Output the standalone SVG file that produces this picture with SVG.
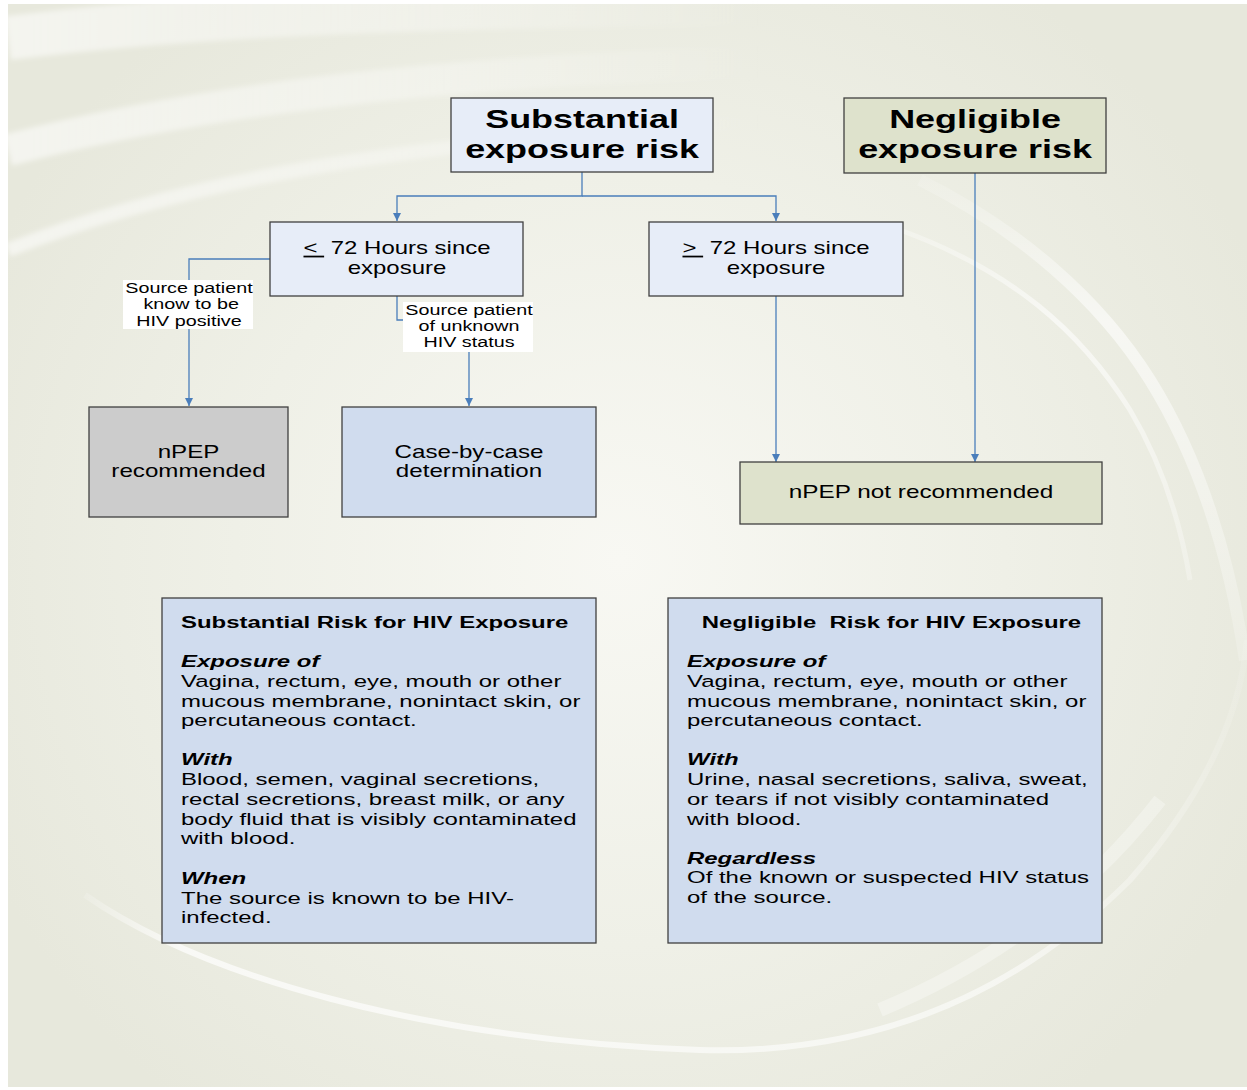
<svg xmlns="http://www.w3.org/2000/svg" width="1247" height="1090" viewBox="0 0 1247 1090">
<style>
.t{font-family:"Liberation Sans",Arial,Helvetica,sans-serif;fill:#000}
.h{font-size:25.5px;font-weight:bold}
.m{font-size:17.5px}
.s{font-size:14px}
.b{font-size:17px}
.bt{font-size:17px;font-weight:bold}
.bi{font-size:17px;font-weight:bold;font-style:italic}
.box{stroke:#404040;stroke-width:1.3}
.c{fill:none;stroke:#4a7ebb;stroke-width:1.3}
.arc{fill:none}
</style>
<defs>
<radialGradient id="bg" cx="620" cy="560" r="700" gradientUnits="userSpaceOnUse">
<stop offset="0" stop-color="#f8f8f3"/>
<stop offset="0.55" stop-color="#eff0e7"/>
<stop offset="1" stop-color="#e7e8dc"/>
</radialGradient>
<linearGradient id="fadeR" x1="8" y1="0" x2="760" y2="0" gradientUnits="userSpaceOnUse">
<stop offset="0" stop-color="#ffffff" stop-opacity="0.55"/>
<stop offset="0.6" stop-color="#ffffff" stop-opacity="0.3"/>
<stop offset="1" stop-color="#ffffff" stop-opacity="0"/>
</linearGradient>
<linearGradient id="fadeD" x1="0" y1="170" x2="0" y2="680" gradientUnits="userSpaceOnUse">
<stop offset="0" stop-color="#ffffff" stop-opacity="0.1"/>
<stop offset="0.3" stop-color="#ffffff" stop-opacity="0.6"/>
<stop offset="1" stop-color="#ffffff" stop-opacity="0.15"/>
</linearGradient>
<linearGradient id="fadeB" x1="60" y1="0" x2="1247" y2="0" gradientUnits="userSpaceOnUse">
<stop offset="0" stop-color="#ffffff" stop-opacity="0"/>
<stop offset="0.1" stop-color="#ffffff" stop-opacity="0.7"/>
<stop offset="0.8" stop-color="#ffffff" stop-opacity="0.55"/>
<stop offset="1" stop-color="#ffffff" stop-opacity="0.1"/>
</linearGradient>
<filter id="soft" x="-10%" y="-50%" width="120%" height="200%"><feGaussianBlur stdDeviation="2.5"/></filter>
<marker id="ah" markerUnits="userSpaceOnUse" markerWidth="9" markerHeight="8" refX="8" refY="4" orient="auto">
<path d="M0,0 L8,4 L0,8 Z" fill="#4a7ebb"/>
</marker>
</defs>
<rect x="0" y="0" width="1247" height="1090" fill="#ffffff"/>
<g id="background">
<rect x="8" y="4" width="1239" height="1083" fill="url(#bg)"/>
<g filter="url(#soft)">
<path class="arc" d="M8,38 C200,14 420,6 760,4" stroke="url(#fadeR)" stroke-width="44"/>
<path class="arc" d="M8,150 C200,100 430,72 760,62" stroke="url(#fadeR)" stroke-width="32"/>
<path class="arc" d="M8,250 C180,182 390,142 760,122" stroke="url(#fadeR)" stroke-width="14"/>
</g>
<path class="arc" d="M85,895 C200,975 420,1040 700,1050 C880,1055 1020,990 1130,880 C1200,800 1240,720 1247,640" stroke="url(#fadeB)" stroke-width="6"/>
<path class="arc" d="M880,1010 C1000,960 1090,890 1160,800" stroke="#ffffff" stroke-opacity="0.3" stroke-width="14"/>
<path class="arc" d="M920,180 C1020,230 1100,300 1150,380 C1200,460 1230,560 1245,660" stroke="url(#fadeD)" stroke-width="12"/>
<path class="arc" d="M900,230 C1010,270 1080,330 1130,410 C1160,460 1180,520 1190,580" stroke="url(#fadeD)" stroke-width="5"/>
</g>
<g id="connectors">
<path class="c" d="M582,172 V196 H397 V221" marker-end="url(#ah)"/>
<path class="c" d="M582,196 H776 V221" marker-end="url(#ah)"/>
<path class="c" d="M270,259 H189 V406" marker-end="url(#ah)"/>
<path class="c" d="M397,296 V320 H469 V406" marker-end="url(#ah)"/>
<path class="c" d="M776,296 V462" marker-end="url(#ah)"/>
<path class="c" d="M975,173 V462" marker-end="url(#ah)"/>
<g id="label-known">
<rect x="123" y="280" width="130" height="49" fill="#ffffff"/>
<text class="t s" text-anchor="middle" transform="translate(189 0) scale(1.41 1)"><tspan x="0" y="293">Source patient</tspan><tspan x="1.5" y="309">know to be</tspan><tspan x="0" y="326">HIV positive</tspan></text>
</g>
<g id="label-unknown">
<rect x="403" y="302" width="130" height="50" fill="#ffffff"/>
<text class="t s" text-anchor="middle" transform="translate(469 0) scale(1.41 1)"><tspan x="0" y="315">Source patient</tspan><tspan x="0" y="331">of unknown</tspan><tspan x="0" y="347">HIV status</tspan></text>
</g>
</g>
<g id="substantial">
<rect class="box" x="451" y="98" width="262" height="74" fill="#e7edf8"/>
<text class="t h" text-anchor="middle" transform="translate(582 0) scale(1.41 1)"><tspan x="0" y="128">Substantial</tspan><tspan x="0" y="158">exposure risk</tspan></text>
</g>
<g id="negligible">
<rect class="box" x="844" y="98" width="262" height="75" fill="#dee2cc"/>
<text class="t h" text-anchor="middle" transform="translate(975 0) scale(1.41 1)"><tspan x="0" y="128">Negligible</tspan><tspan x="0" y="158">exposure risk</tspan></text>
</g>
<g id="lt72">
<rect class="box" x="270" y="222" width="253" height="74" fill="#e7edf8"/>
<text class="t m" text-anchor="middle" transform="translate(397 0) scale(1.37 1)"><tspan x="0" y="254"><tspan text-decoration="underline">&lt;&#160;</tspan>&#160;72 Hours since</tspan><tspan x="0" y="274">exposure</tspan></text>
</g>
<g id="gt72">
<rect class="box" x="649" y="222" width="254" height="74" fill="#e7edf8"/>
<text class="t m" text-anchor="middle" transform="translate(776 0) scale(1.37 1)"><tspan x="0" y="254"><tspan text-decoration="underline">&gt;&#160;</tspan>&#160;72 Hours since</tspan><tspan x="0" y="274">exposure</tspan></text>
</g>
<g id="npep-rec">
<rect class="box" x="89" y="407" width="199" height="110" fill="#cccccc"/>
<text class="t m" text-anchor="middle" transform="translate(188.5 0) scale(1.38 1)"><tspan x="0" y="458">nPEP</tspan><tspan x="0" y="477">recommended</tspan></text>
</g>
<g id="case">
<rect class="box" x="342" y="407" width="254" height="110" fill="#d0dcee"/>
<text class="t m" text-anchor="middle" transform="translate(469 0) scale(1.38 1)"><tspan x="0" y="458">Case-by-case</tspan><tspan x="0" y="477">determination</tspan></text>
</g>
<g id="npep-not">
<rect class="box" x="740" y="462" width="362" height="62" fill="#dee2cc"/>
<text class="t m" text-anchor="middle" transform="translate(921 0) scale(1.39 1)"><tspan x="0" y="498">nPEP not recommended</tspan></text>
</g>
<g id="substantial-info">
<rect class="box" x="162" y="598" width="434" height="345" fill="#d0dcee"/>
<g transform="translate(181 0) scale(1.41 1)">
<text class="t bt" x="0" y="628">Substantial Risk for HIV Exposure</text>
<text class="t bi" x="0" y="667">Exposure of</text>
<text class="t b"><tspan x="0" y="687">Vagina, rectum, eye, mouth or other</tspan><tspan x="0" y="707">mucous membrane, nonintact skin, or</tspan><tspan x="0" y="726">percutaneous contact.</tspan></text>
<text class="t bi" x="0" y="765">With</text>
<text class="t b"><tspan x="0" y="785">Blood, semen, vaginal secretions,</tspan><tspan x="0" y="805">rectal secretions, breast milk, or any</tspan><tspan x="0" y="825">body fluid that is visibly contaminated</tspan><tspan x="0" y="844">with blood.</tspan></text>
<text class="t bi" x="0" y="884">When</text>
<text class="t b"><tspan x="0" y="904">The source is known to be HIV-</tspan><tspan x="0" y="923">infected.</tspan></text>
</g>
</g>
<g id="negligible-info">
<rect class="box" x="668" y="598" width="434" height="345" fill="#d0dcee"/>
<g transform="translate(687 0) scale(1.41 1)">
<text class="t bt" x="10.5" y="628" xml:space="preserve">Negligible  Risk for HIV Exposure</text>
<text class="t bi" x="0" y="667">Exposure of</text>
<text class="t b"><tspan x="0" y="687">Vagina, rectum, eye, mouth or other</tspan><tspan x="0" y="707">mucous membrane, nonintact skin, or</tspan><tspan x="0" y="726">percutaneous contact.</tspan></text>
<text class="t bi" x="0" y="765">With</text>
<text class="t b"><tspan x="0" y="785">Urine, nasal secretions, saliva, sweat,</tspan><tspan x="0" y="805">or tears if not visibly contaminated</tspan><tspan x="0" y="825">with blood.</tspan></text>
<text class="t bi" x="0" y="864">Regardless</text>
<text class="t b"><tspan x="0" y="883">Of the known or suspected HIV status</tspan><tspan x="0" y="903">of the source.</tspan></text>
</g>
</g>
</svg>
